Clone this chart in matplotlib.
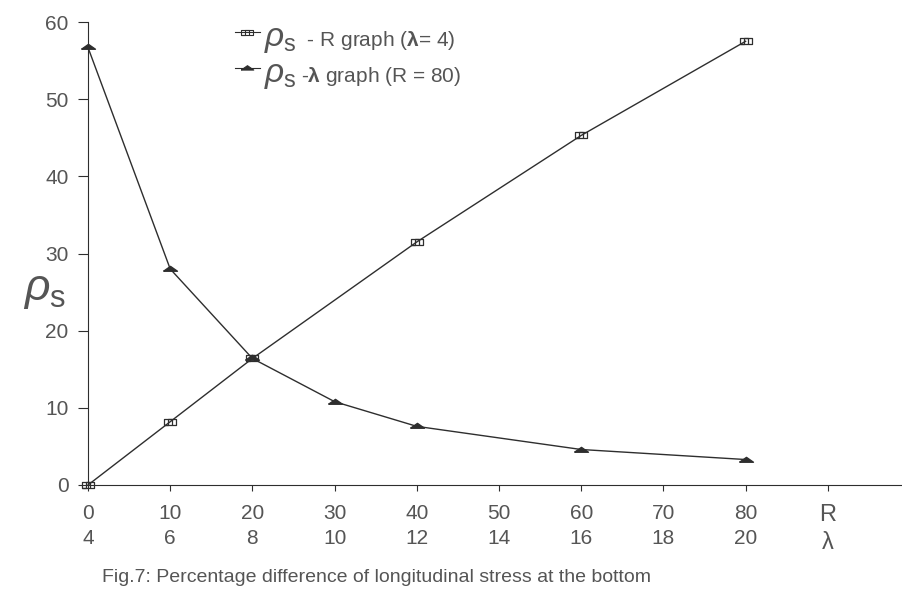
import numpy as np
import matplotlib.pyplot as plt
from matplotlib.lines import Line2D
from matplotlib.offsetbox import (AnchoredOffsetbox, DrawingArea, HPacker,
                                  TextArea, VPacker)

# rho_s against R (lambda = 4)
R_vals = [0, 10, 20, 40, 60, 80]
rho_R = [0, 8.2, 16.4, 31.5, 45.3, 57.5]

# rho_s against lambda (R = 80)
lam_vals = [4, 6, 8, 10, 12, 16, 20]
rho_lam = [56.7, 28.0, 16.4, 10.8, 7.6, 4.6, 3.3]

R_ticks = [0, 10, 20, 30, 40, 50, 60, 70, 80]
lam_ticks = [4, 6, 8, 10, 12, 14, 16, 18, 20]
y_ticks = [0, 10, 20, 30, 40, 50, 60]


def lam_to_x(lam):
    # lambda axis shares the R axis: 4 -> 0, 20 -> 80
    return (np.asarray(lam) - 4) * 5


plt.rcParams['font.family'] = ['Liberation Sans', 'DejaVu Sans']
plt.rcParams['mathtext.fontset'] = 'custom'
plt.rcParams['mathtext.rm'] = 'Liberation Sans'
plt.rcParams['mathtext.it'] = 'Liberation Sans:italic'
plt.rcParams['mathtext.bf'] = 'Liberation Sans:bold'

ink = '#2e2e2e'
txt = '#555555'

fig = plt.figure(figsize=(9.03, 5.99), dpi=100)
ax = fig.add_axes([88 / 903, 114 / 599, 815 / 903, 463 / 599])

rect = [(-1, -0.45), (1, -0.45), (1, 0.45), (-1, 0.45), (-1, -0.45),
        (-0.33, -0.45), (-0.33, 0.45), (0.33, 0.45), (0.33, -0.45)]
tri = [(-1, -0.25), (1, -0.25), (0, 0.45), (-1, -0.25)]

ax.plot(R_vals, rho_R, color=ink, lw=1.0, marker=rect, markersize=9,
        markerfacecolor='none', markeredgecolor=ink, markeredgewidth=0.9,
        clip_on=False, zorder=3)
ax.plot(lam_to_x(lam_vals), rho_lam, color=ink, lw=1.0, marker=tri,
        markersize=10, markerfacecolor=ink, markeredgecolor=ink,
        clip_on=False, zorder=3)

ax.set_xlim(0, 815 / 8.22)
ax.set_ylim(0, 60)

for s in ['top', 'right']:
    ax.spines[s].set_visible(False)
ax.spines['left'].set_color(ink)
ax.spines['bottom'].set_color(ink)
ax.spines['left'].set_bounds(0, 60)

ax.set_yticks(y_ticks)
ax.set_yticklabels([str(v) for v in y_ticks])
xt = R_ticks + [90]
xl = [f'{r}\n{l}' for r, l in zip(R_ticks, lam_ticks)] + ['R\nλ']
ax.set_xticks(xt)
ax.set_xticklabels(xl, linespacing=1.35)

ax.tick_params(axis='y', direction='out', length=7, width=0.8, pad=7,
               colors=ink, labelcolor=txt, labelsize=15)
ax.tick_params(axis='x', direction='out', length=4, width=0.8, pad=10,
               colors=ink, labelcolor=txt, labelsize=15)
ax.get_xticklabels()[-1].set_fontsize(17)


# legend built from pieces so that rho can be drawn larger than the text
def legend_row(marker, mfc, msize, rest):
    da = DrawingArea(18, 14, 0, 0)
    da.add_artist(Line2D([0, 18], [10, 10], color=ink, lw=0.8))
    da.add_artist(Line2D([9], [10], marker=marker, markersize=msize,
                         markerfacecolor=mfc, markeredgecolor=ink,
                         markeredgewidth=0.8))
    rho = TextArea(r'$\rho_{\mathrm{s}}$',
                   textprops=dict(fontsize=24, color=txt))
    body = TextArea(rest, textprops=dict(fontsize=15, color=txt))
    return HPacker(children=[da, rho, body], align='baseline', pad=0, sep=3)


rows = [legend_row(rect, 'none', 8, r' - R graph ($\mathbf{\lambda}$= 4)'),
        legend_row(tri, ink, 9, r'-$\mathbf{\lambda}$ graph (R = 80)')]
box = VPacker(children=rows, align='left', pad=0, sep=2)
anch = AnchoredOffsetbox(loc='upper left', child=box, frameon=False,
                         bbox_to_anchor=(0.18, 1.0),
                         bbox_transform=ax.transAxes, borderpad=0, pad=0)
ax.add_artist(anch)

fig.text(0.025, 0.515, r'$\rho_{\mathrm{s}}$', fontsize=32, color=txt,
         ha='left', va='center')

fig.text(102 / 903, 1 - 578 / 599,
         'Fig.7: Percentage difference of longitudinal stress at the bottom',
         fontsize=14, color=txt, ha='left', va='center')

fig.savefig('out.png', dpi=100)
